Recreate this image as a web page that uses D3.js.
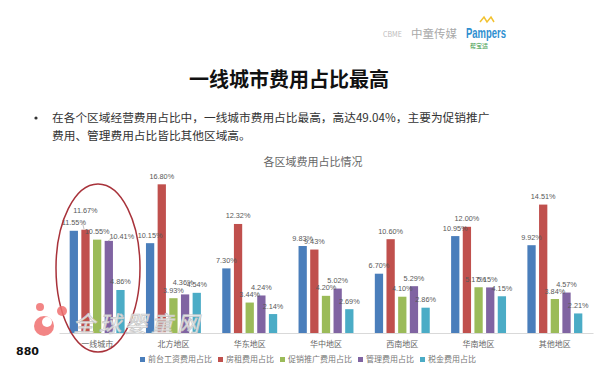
<!DOCTYPE html>
<html>
<head>
<meta charset="utf-8">
<script src="https://cdn.jsdelivr.net/npm/d3@7"></script>
<style>
  body { margin: 0; background: #fff; }
  svg { display: block; font-family: "Noto Sans CJK SC", "Noto Sans", sans-serif; }
</style>
</head>
<body>
<div id="chart"></div>
<script>
// data
let regions = ['一线城市', '北方地区', '华东地区', '华中地区', '西南地区', '华南地区', '其他地区'];
let seriesNames = ['前台工资费用占比', '房租费用占比', '促销推广费用占比', '管理费用占比', '税金费用占比'];
let wages     = [11.55, 10.15, 7.30, 9.83, 6.70, 10.95, 9.92];
let rent      = [11.67, 16.80, 12.32, 9.43, 10.60, 12.00, 14.51];
let promotion = [10.55, 3.93, 3.44, 4.20, 4.10, 5.17, 3.84];
let admin     = [10.41, 4.36, 4.24, 5.02, 5.29, 5.15, 4.57];
let tax       = [4.86, 4.54, 2.14, 2.69, 2.86, 4.15, 2.21];
let colors = ['#4a7ebb', '#c0504d', '#9bbb59', '#8064a2', '#4bacc6'];

let svgWidth = 600;
let svgHeight = 375;

let svg = d3.select('#chart')
    .append('svg')
    .attr('width', svgWidth)
    .attr('height', svgHeight);

// header logos
svg.append('text').attr('x', 383).attr('y', 37).attr('font-size', 7).attr('fill', '#bbb').text('CBME');
svg.append('text').attr('x', 411).attr('y', 38).attr('font-size', 11.5).attr('fill', '#a9a9a9').text('中童传媒');
svg.append('text').attr('x', 466).attr('y', 38).attr('font-size', 14).attr('font-weight', 'bold')
    .attr('textLength', 40).attr('lengthAdjust', 'spacingAndGlyphs')
    .attr('font-family', 'Liberation Sans Narrow, Liberation Sans, sans-serif')
    .attr('fill', '#2f8fd0').text('Pampers');
svg.append('text').attr('x', 470).attr('y', 48).attr('font-size', 6).attr('fill', '#3a9a4a').text('帮宝适');
svg.append('path').attr('d', 'M480,22 L484,17 L487,22 L491,17 L494,22').attr('fill', 'none')
    .attr('stroke', '#f2c230').attr('stroke-width', 1.5);

// slide title + bullet
svg.append('text').attr('x', 289).attr('y', 87).attr('text-anchor', 'middle')
    .attr('font-size', 20).attr('font-weight', 'bold').attr('fill', '#111').text('一线城市费用占比最高');
svg.append('circle').attr('cx', 36).attr('cy', 118).attr('r', 1.6).attr('fill', '#333');
svg.append('text').attr('x', 52).attr('y', 122).attr('font-size', 11.7).attr('fill', '#333')
    .text('在各个区域经营费用占比中，一线城市费用占比最高，高达49.04%，主要为促销推广');
svg.append('text').attr('x', 52).attr('y', 140).attr('font-size', 11.7).attr('fill', '#333')
    .text('费用、管理费用占比皆比其他区域高。');

// chart title
svg.append('text').attr('x', 313).attr('y', 166).attr('text-anchor', 'middle')
    .attr('font-size', 11).attr('fill', '#666').text('各区域费用占比情况');

// scales
let baseY = 333;
let xScale = d3.scaleBand()
    .domain(regions)
    .range([59, 593])
    .paddingInner(0.28)
    .paddingOuter(0.14);

let xInner = d3.scaleBand()
    .domain(seriesNames)
    .range([0, xScale.bandwidth()])
    .paddingInner(0.29)
    .paddingOuter(0);

let yScale = d3.scaleLinear()
    .domain([0, 18])
    .range([baseY, baseY - 159.3]);

let allSeries = [wages, rent, promotion, admin, tax];
let rows = [];
regions.forEach((r, i) => {
    seriesNames.forEach((s, j) => {
        rows.push({ region: r, series: s, si: j, value: allSeries[j][i] });
    });
});

// axis
let xAxis = d3.axisBottom(xScale).tickSize(0).tickPadding(8);
let axisG = svg.append('g')
    .attr('transform', `translate(0, ${baseY})`)
    .call(xAxis);
axisG.select('.domain').attr('stroke', '#d9d9d9');
axisG.selectAll('text').attr('font-size', 8).attr('fill', '#666')
    .attr('font-family', '"Noto Sans CJK SC", sans-serif');

// bars
svg.selectAll('rect.bar')
    .data(rows)
    .enter()
    .append('rect')
    .attr('class', 'bar')
    .attr('x', d => xScale(d.region) + xInner(d.series))
    .attr('y', d => yScale(d.value))
    .attr('width', xInner.bandwidth())
    .attr('height', d => baseY - yScale(d.value))
    .attr('fill', d => colors[d.si]);

// a few labels were dragged aside in the original slide
let nudge = {
    '一线城市|房租费用占比': [0, -11],
    '一线城市|管理费用占比': [13, 4],
    '北方地区|管理费用占比': [-2, -4],
    '华南地区|促销推广费用占比': [-3, 0],
    '华南地区|管理费用占比': [-3, 0]
};
let nd = d => nudge[d.region + '|' + d.series] || [0, 0];

svg.selectAll('text.val')
    .data(rows)
    .enter()
    .append('text')
    .attr('class', 'val')
    .attr('x', d => xScale(d.region) + xInner(d.series) + xInner.bandwidth() / 2 + nd(d)[0])
    .attr('y', d => yScale(d.value) - 5.5 + nd(d)[1])
    .attr('text-anchor', 'middle')
    .attr('font-size', 7.3)
    .attr('font-family', '"Liberation Sans", Arial, sans-serif')
    .attr('fill', '#595959')
    .text(d => d.value.toFixed(2) + '%');

// leader lines for the moved ones
svg.append('line').attr('x1', 82).attr('y1', 221).attr('x2', 84).attr('y2', 229)
    .attr('stroke', '#aaa').attr('stroke-width', 0.7);
svg.append('line').attr('x1', 108).attr('y1', 241).attr('x2', 114).attr('y2', 237)
    .attr('stroke', '#aaa').attr('stroke-width', 0.7);

// legend
let legendX = 140;
seriesNames.forEach((s, j) => {
    svg.append('rect').attr('x', legendX).attr('y', 357).attr('width', 5).attr('height', 5).attr('fill', colors[j]);
    let t = svg.append('text').attr('x', legendX + 8).attr('y', 362)
        .attr('font-size', 8).attr('fill', '#777').text(s);
    legendX += 8 + t.node().getComputedTextLength() + 6;
});

// red ellipse highlighting first-tier cities
svg.append('ellipse')
    .attr('cx', 98).attr('cy', 268).attr('rx', 42).attr('ry', 84)
    .attr('fill', 'none').attr('stroke', '#a8323a').attr('stroke-width', 1.5);

// watermark
svg.append('circle').attr('cx', 44).attr('cy', 326).attr('r', 10).attr('fill', '#f07070').attr('opacity', 0.85);
svg.append('circle').attr('cx', 40).attr('cy', 307).attr('r', 4).attr('fill', '#f07070').attr('opacity', 0.85);
svg.append('circle').attr('cx', 62).attr('cy', 311).attr('r', 5).attr('fill', '#f07070').attr('opacity', 0.85);
svg.append('circle').attr('cx', 47).attr('cy', 322).attr('r', 5).attr('fill', '#fff');
svg.append('text').attr('x', 73).attr('y', 332).attr('font-size', 22)
    .attr('font-style', 'italic').attr('fill', '#fff').attr('fill-opacity', 0.85)
    .attr('stroke', '#c8c8c8').attr('stroke-width', 0.8)
    .attr('letter-spacing', 4).text('全球婴童网');

// small corner mark
svg.append('text').attr('x', 16).attr('y', 355).attr('font-size', 11).attr('font-weight', 'bold')
    .attr('fill', '#111').attr('font-family', '"DejaVu Sans", sans-serif').text('880');
</script>
</body>
</html>
